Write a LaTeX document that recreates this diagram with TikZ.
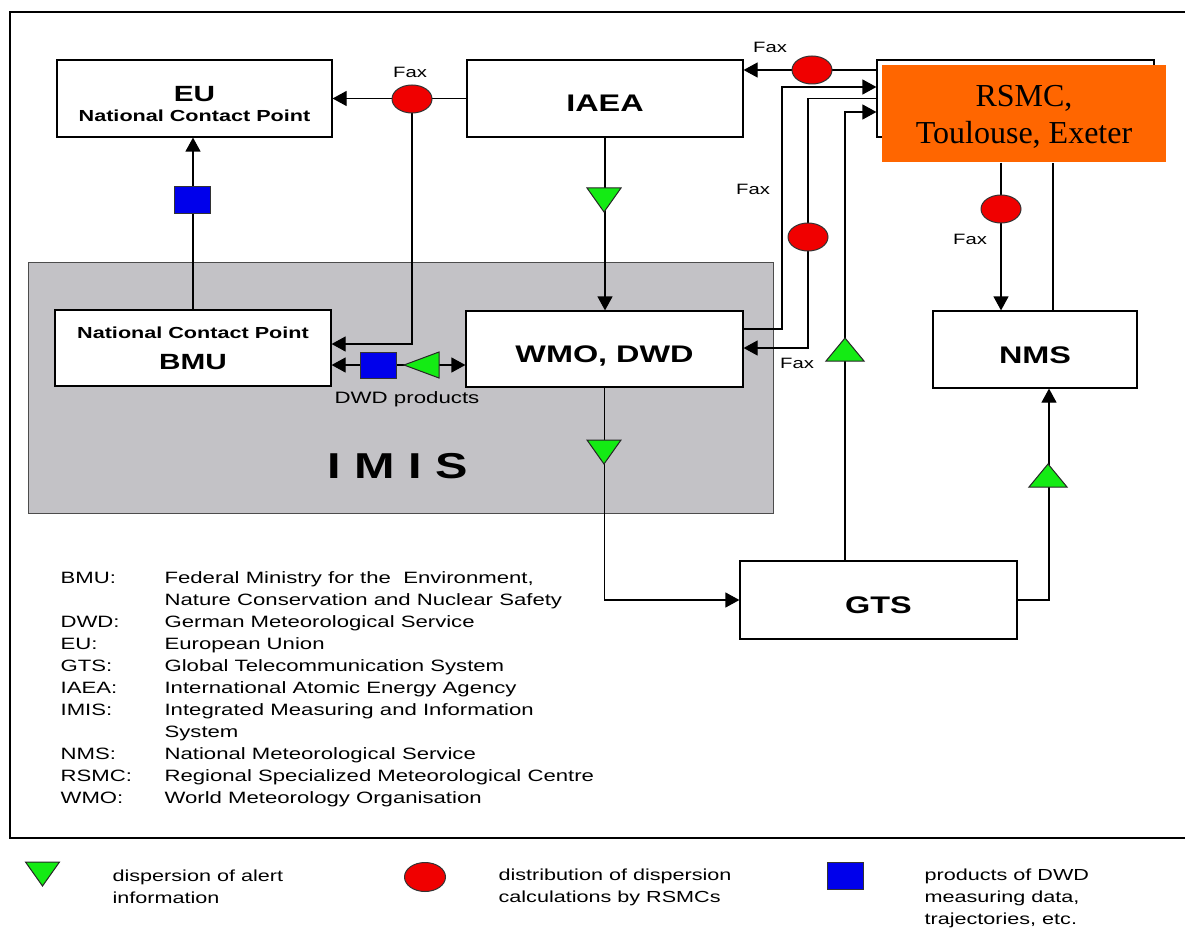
\documentclass[tikz,border=0pt]{standalone}
\usepackage{fontspec}
\setmainfont{Liberation Sans}[FakeStretch=1.35]
\newfontfamily\rsmcfont{Liberation Serif}
\usepackage{xcolor}
\usetikzlibrary{arrows.meta}
\usetikzlibrary{shapes.geometric}
\definecolor{imisgray}{RGB}{195,194,198}
\definecolor{rsmcorange}{RGB}{255,102,0}
\definecolor{alertgreen}{RGB}{20,235,20}
\definecolor{faxred}{RGB}{240,0,0}
\definecolor{dwdblue}{RGB}{0,0,235}

\begin{document}
\begin{tikzpicture}[x=1pt,y=-1pt,line width=1.2pt,>={Triangle[length=14pt,width=15pt]},
  box/.style={draw,fill=white,inner sep=0pt,align=center,font=\bfseries},
  bigbox/.style={box,text height=27pt,text depth=0pt,font=\fontsize{24}{24}\selectfont\bfseries},
  faxdot/.style={ellipse,draw=black!80,line width=1pt,fill=faxred,minimum width=40pt,minimum height=28pt,inner sep=0pt},
  dwdbox/.style={rectangle,draw=black!80,line width=1pt,fill=dwdblue,minimum width=36pt,minimum height=26pt,inner sep=0pt},
  faxtext/.style={inner sep=0pt,font=\fontsize{15}{18}\selectfont},
  legendtext/.style={anchor=west,inner sep=0pt,align=left,font=\fontsize{16}{22}\selectfont},
  alertmark/.style={fill=alertgreen,draw=black!85,line width=1pt},
  alertdown/.pic={\filldraw[alertmark] (-17,-12) -- (17,-12) -- (0,12) -- cycle;},
  alertup/.pic={\filldraw[alertmark] (-19,11) -- (19,11) -- (0,-12) -- cycle;},
  alertleft/.pic={\filldraw[alertmark] (18,-13) -- (18,13) -- (-17,0) -- cycle;}]
\useasboundingbox (0,0) rectangle (1185,928);
\fill[white] (0,0) rectangle (1185,928);
\draw (1190,12) -- (10,12) -- (10,838) -- (1190,838);

% IMIS area
\node[fill=imisgray,draw=black!70,line width=1pt,minimum width=745pt,minimum height=251pt,inner sep=0pt] (imis) at (400.5,387.5) {};
\node[inner sep=0pt,font=\fontsize{36}{36}\selectfont\bfseries] (imistitle) at (398,466) {I M I S};

% boxes
\node[box,minimum width=275pt,minimum height=77pt,font=\fontsize{16}{19.5}\selectfont\bfseries] (eu) at (194.5,98.5)
  {{\fontsize{22}{22}\selectfont\rule{0pt}{26pt}EU}\\National Contact Point};
\node[bigbox,minimum width=276pt,minimum height=77pt] (iaea) at (605,98.5) {IAEA};
\node[box,minimum width=277pt,minimum height=77pt] (rsmc) at (1015.5,98.5) {};
\node[fill=rsmcorange,minimum width=284pt,minimum height=97pt,inner sep=0pt,align=center,
  font=\rsmcfont\fontsize{32}{37}\selectfont] (rsmclabel) at (1024,113.5) {\rule{0pt}{27pt}RSMC,\\Toulouse, Exeter};
\node[box,minimum width=276pt,minimum height=76pt,font=\fontsize{22}{31}\selectfont\bfseries] (bmu) at (193,348)
  {{\fontsize{16}{18}\selectfont National Contact Point}\\BMU};
\node[bigbox,minimum width=277pt,minimum height=76pt] (wmo) at (604.5,349) {WMO, DWD};
\node[bigbox,minimum width=204pt,minimum height=77pt] (nms) at (1035,349.5) {NMS};
\node[bigbox,minimum width=277pt,minimum height=78pt] (gts) at (878.5,600) {GTS};

\coordinate (faxeu) at (412,99);
\coordinate (faxiaea) at (812,70);
\coordinate (faxwmo) at (808,237);
\coordinate (faxnms) at (1001,209);
\coordinate (wmoout) at (782,87);

% connectors
\draw[->] (iaea.west) -- (eu.east);
\draw[->] (faxeu) |- ([yshift=4pt]bmu.east);
\draw[->] (bmu.north) -- (bmu.north |- eu.south);
\draw[<->] ([yshift=-16pt]wmo.west) -- ([yshift=-16pt]wmo.west -| bmu.east);
\draw[->] (iaea.south) -- (iaea.south |- wmo.north);
\draw[->] (wmo.south) |- (gts.west);
\draw[->] ([xshift=-33.5pt]gts.north) |- ([yshift=-13.5pt]rsmc.west);
\draw[->] (gts.east) -| ([xshift=14pt]nms.south);
\draw[->] ([yshift=28.5pt]rsmc.west) -- ([yshift=28.5pt]rsmc.west -| iaea.east);
\draw[->] ([yshift=20pt]wmo.east) -| (wmoout) -- (wmoout -| rsmc.west);
\draw[->] (rsmc.west) -| (faxwmo) |- ([yshift=1pt]wmo.east);
\draw[->] (faxnms |- rsmclabel.south) -- (faxnms |- nms.north);
\draw ([xshift=18pt]nms.north) -- ([xshift=18pt]nms.north |- rsmclabel.south);

% markers
\node[faxdot] (fax1) at (faxeu) {};
\node[faxdot] (fax2) at (faxiaea) {};
\node[faxdot] (fax3) at (faxwmo) {};
\node[faxdot] (fax4) at (faxnms) {};
\node[dwdbox] (dwd1) at (192,200) {};
\node[dwdbox] (dwd2) at (378,365) {};
\pic at (421,365) {alertleft};
\pic at (604,200) {alertdown};
\pic at (604,452) {alertdown};
\pic at (845,350) {alertup};
\pic at (1048,476) {alertup};

\node[faxtext] (faxlabel1) at (410,72) {Fax};
\node[faxtext] (faxlabel2) at (770,47) {Fax};
\node[faxtext] (faxlabel3) at (753,189) {Fax};
\node[faxtext] (faxlabel4) at (797,363) {Fax};
\node[faxtext] (faxlabel5) at (970,239) {Fax};
\node[faxtext,font=\fontsize{16.5}{18}\selectfont] (dwdprod) at (407,399) {DWD products};

% glossary
\node[anchor=north west,inner sep=0pt,font=\fontsize{16.4}{22}\selectfont] (glossary) at (60,567)
  {\begin{tabular}{@{}p{104pt}@{}l@{}}
   BMU: & Federal Ministry for the\ \ Environment,\\
        & Nature Conservation and Nuclear Safety\\
   DWD: & German Meteorological Service\\
   EU:  & European Union\\
   GTS: & Global Telecommunication System\\
   IAEA: & International Atomic Energy Agency\\
   IMIS: & Integrated Measuring and Information\\
        & System\\
   NMS: & National Meteorological Service\\
   RSMC: & Regional Specialized Meteorological Centre\\
   WMO: & World Meteorology Organisation
  \end{tabular}};

% key
\pic at (42.5,874) {alertdown};
\node[faxdot,minimum width=41pt,minimum height=29pt] (keyfax) at (425,877) {};
\node[dwdbox,minimum height=27pt] (keydwd) at (845,876) {};
\node[legendtext] (keyalert) at (112,887) {dispersion of alert\\information};
\node[legendtext] (keycalc) at (498,887) {distribution of dispersion\\calculations by RSMCs};
\node[legendtext] (keyprod) at (924,898) {products of DWD\\measuring data,\\trajectories, etc.};
\end{tikzpicture}
\end{document}
